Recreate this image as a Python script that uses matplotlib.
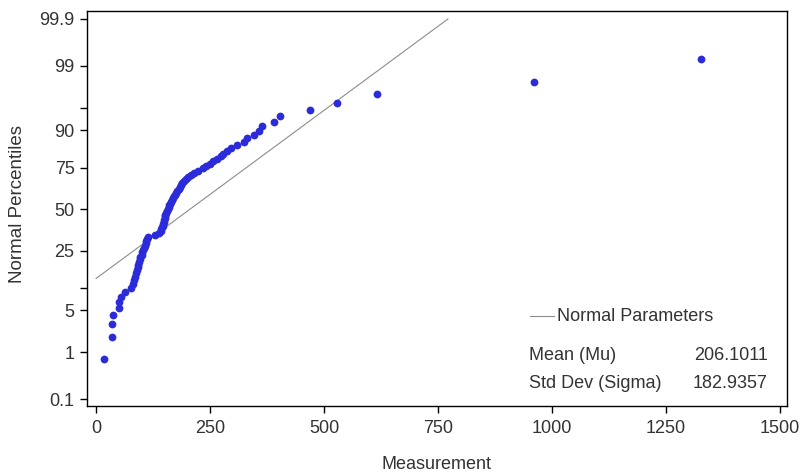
import matplotlib
matplotlib.use("Agg")
import matplotlib.pyplot as plt
from matplotlib.lines import Line2D
from statistics import NormalDist

# ---- data ----
measurement = [17.5, 35, 35, 36, 50, 50, 55, 64, 77, 80,
               83, 85, 87.6, 90, 91, 92, 94, 96, 97, 100,
               101, 103, 105, 107, 109, 110, 112, 114, 129, 138,
               142, 143, 145, 146, 147, 148, 149, 150, 151, 152,
               153, 156, 157, 159, 160, 162, 164, 166, 169, 171,
               173, 175, 177, 181, 184, 186, 188, 193, 197, 201,
               208, 214, 223, 234, 241, 250, 256, 265, 274, 278,
               287, 296, 309, 324, 331, 346, 357, 364, 390, 403,
               469, 528, 615, 961, 1327]

mu = 206.1011
sigma = 182.9357

pct_ticks = [0.1, 1, 5, 10, 25, 50, 75, 90, 95, 99, 99.9]
pct_labels = ['0.1', '1', '5', '', '25', '50', '75', '90', '', '99', '99.9']
x_ticks = [0, 250, 500, 750, 1000, 1250, 1500]

plt.rcParams['font.family'] = ['Liberation Sans', 'DejaVu Sans']

W, H = 806, 473
fig = plt.figure(figsize=(W / 100, H / 100), dpi=100)
ax = fig.add_axes([87 / W, 1 - 406 / H, 700 / W, 395 / H])

nd = NormalDist()
xs = sorted(measurement)
n = len(xs)
zs = [nd.inv_cdf((i - 0.375) / (n + 0.25)) for i in range(1, n + 1)]

# reference normal line
x_ref = [0, mu + sigma * nd.inv_cdf(0.999)]
z_ref = [(v - mu) / sigma for v in x_ref]
ax.plot(x_ref, z_ref, color='#8c8c8c', lw=0.8, zorder=2)

ax.plot(xs, zs, 'o', ms=5.6, color='#2b2bd9', mec='none', zorder=3)

ax.set_xlim(-20, 1515)
ax.set_ylim(-3.2, 3.22)
ax.set_xticks(x_ticks)
ax.set_xticklabels([str(t) for t in x_ticks])
ax.set_yticks([nd.inv_cdf(p / 100) for p in pct_ticks])
ax.set_yticklabels(pct_labels)
ax.tick_params(direction='out', length=5, width=1, labelsize=13,
               color='black', labelcolor='#333333')
ax.tick_params(axis='x', pad=5)
ax.tick_params(axis='y', pad=4)
for s in ax.spines.values():
    s.set_linewidth(1)
    s.set_color('black')

def fx(px):
    return px / W

def fy(py):
    return 1 - py / H

fig.text(fx(437), fy(464), 'Measurement', ha='center', va='center',
         fontsize=13, color='#333333')
fig.text(fx(18), fy(204), 'Normal Percentiles', ha='center', va='center',
         rotation=90, fontsize=13.5, color='#333333')

# legend / inset
fig.add_artist(Line2D([fx(530), fx(554)], [fy(316), fy(316)],
                      color='#8c8c8c', lw=0.8))
fig.text(fx(557), fy(316), 'Normal Parameters', ha='left', va='center',
         fontsize=13, color='#333333')
fig.text(fx(529), fy(355), 'Mean (Mu)', ha='left', va='center',
         fontsize=13, color='#333333')
fig.text(fx(768), fy(355), f'{mu:.4f}', ha='right', va='center',
         fontsize=13, color='#333333')
fig.text(fx(529), fy(383), 'Std Dev (Sigma)', ha='left', va='center',
         fontsize=13, color='#333333')
fig.text(fx(768), fy(383), f'{sigma:.4f}', ha='right', va='center',
         fontsize=13, color='#333333')

fig.savefig('out.png', dpi=100)
